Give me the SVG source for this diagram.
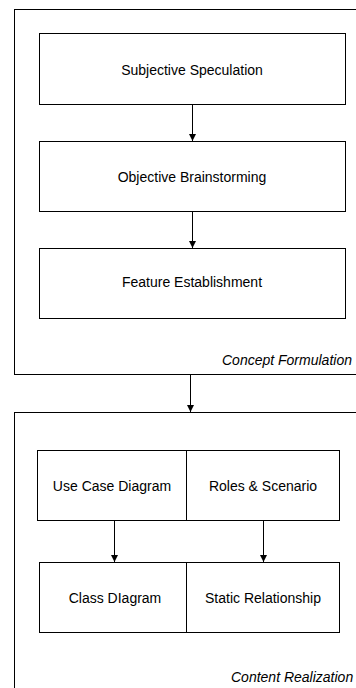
<svg xmlns="http://www.w3.org/2000/svg" width="356" height="688" viewBox="0 0 356 688">
<style>
.frame{fill:none;stroke:#000;stroke-width:1}
.box{fill:#fff;stroke:#000;stroke-width:1}
.t{font-family:"Liberation Sans",Arial,sans-serif;font-size:14px;fill:#000;text-anchor:middle}
.lbl{font-family:"Liberation Sans",Arial,sans-serif;font-size:14px;font-style:italic;fill:#000}
.c{stroke:#000;stroke-width:1;fill:none;marker-end:url(#ah)}
</style>
<defs>
<marker id="ah" markerWidth="8" markerHeight="8" refX="7" refY="3.5" orient="auto" markerUnits="userSpaceOnUse">
<path d="M0,0 L7,3.5 L0,7 Z" fill="#000"/>
</marker>
</defs>
<g id="concept-formulation">
<rect class="frame" x="14.5" y="9.5" width="360" height="365"/>
<text class="lbl" x="222" y="365">Concept Formulation</text>
</g>
<g id="content-realization">
<rect class="frame" x="14.5" y="412.5" width="360" height="300"/>
<text class="lbl" x="231" y="682">Content Realization</text>
</g>
<g id="subjective-speculation">
<rect class="box" x="39.5" y="33.5" width="306" height="71"/>
<text class="t" x="192" y="75">Subjective Speculation</text>
</g>
<g id="objective-brainstorming">
<rect class="box" x="39.5" y="141.5" width="306" height="70"/>
<text class="t" x="192" y="182">Objective Brainstorming</text>
</g>
<g id="feature-establishment">
<rect class="box" x="39.5" y="248.5" width="306" height="70"/>
<text class="t" x="192" y="287">Feature Establishment</text>
</g>
<g id="use-case-diagram">
<rect class="box" x="37.5" y="450.5" width="149" height="70"/>
<text class="t" x="112" y="491">Use Case Diagram</text>
</g>
<g id="roles-scenario">
<rect class="box" x="186.5" y="450.5" width="153" height="70"/>
<text class="t" x="263" y="491">Roles &amp; Scenario</text>
</g>
<g id="class-diagram">
<rect class="box" x="39.5" y="562.5" width="147" height="70"/>
<text class="t" x="115" y="603">Class DIagram</text>
</g>
<g id="static-relationship">
<rect class="box" x="186.5" y="562.5" width="153" height="70"/>
<text class="t" x="263" y="603">Static Relationship</text>
</g>
<g id="connectors">
<line class="c" x1="192.5" y1="104" x2="192.5" y2="141"/>
<line class="c" x1="192.5" y1="211" x2="192.5" y2="248"/>
<line class="c" x1="190.5" y1="375" x2="190.5" y2="412"/>
<line class="c" x1="114.5" y1="521" x2="114.5" y2="562"/>
<line class="c" x1="263.5" y1="521" x2="263.5" y2="562"/>
</g>
</svg>
